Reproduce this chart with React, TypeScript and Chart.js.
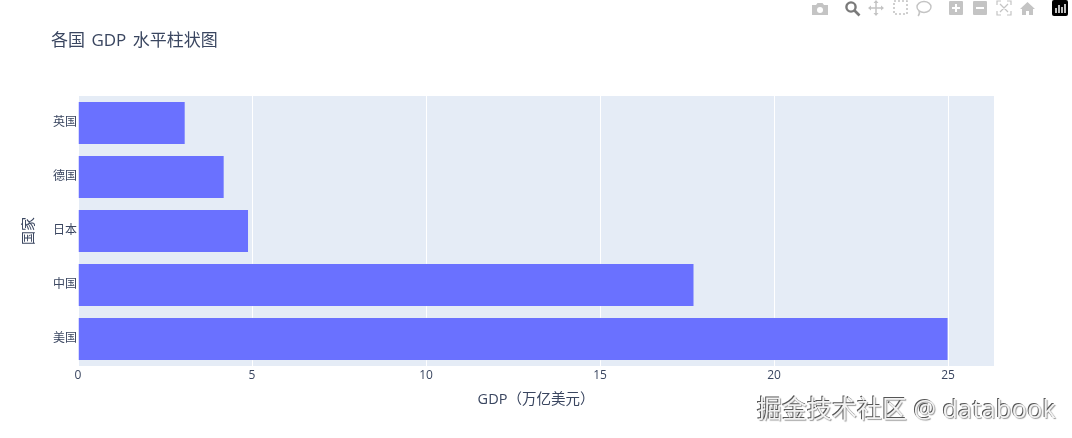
import { useEffect, useRef } from 'react';
import { Chart, ChartConfiguration, registerables } from 'chart.js';

Chart.register(...registerables);

const countries = ['英国', '德国', '日本', '中国', '美国'];
const gdpValues = [3.08, 4.2, 4.9, 17.7, 25];
const xTicks = [0, 5, 10, 15, 20, 25];
const xMax = 26.32;

const FONT = '"Open Sans", "Noto Sans CJK SC", sans-serif';
const INK = '#3a4660';
const ICON = '#c4c4c4';

// Plotly style modebar, just for looks
const ModeBar = () => (
  <svg width={272} height={20} viewBox="0 0 272 20" style={{ position: 'absolute', left: 800, top: 0 }}>
    {/* camera */}
    <path d="M12 5h4l1.500-2h5L24 5h4v10H12z" fill={ICON} />
    <circle cx={20} cy={10} r={3} fill="#fff" />
    {/* zoom */}
    <circle cx={51} cy={7} r={4.600} fill="none" stroke="#7a7a7a" strokeWidth={2.4} />
    <path d="M54.500 10.500l5 5" stroke="#7a7a7a" strokeWidth={2.6} />
    {/* pan */}
    <path d="M76 1v14M69 8h14" stroke={ICON} strokeWidth={1.5} />
    <path d="M76 0l-2.500 3h5zM76 16l-2.500-3h5zM68 8l3-2.500v5zM84 8l-3-2.500v5z" fill={ICON} />
    {/* box select */}
    <rect x={94} y={1} width={13} height={13} fill="none" stroke={ICON} strokeWidth={1.6} strokeDasharray="2 2" />
    {/* lasso */}
    <ellipse cx={124} cy={7} rx={7} ry={5.500} fill="none" stroke={ICON} strokeWidth={1.4} />
    <path d="M119 11c1 2 1 3-1 5" fill="none" stroke={ICON} strokeWidth={1.4} />
    {/* zoom in / out */}
    <rect x={149} y={1} width={14} height={14} rx={1} fill={ICON} />
    <path d="M156 4v8M152 8h8" stroke="#fff" strokeWidth={2} />
    <rect x={173} y={1} width={14} height={14} rx={1} fill={ICON} />
    <path d="M176 8h8" stroke="#fff" strokeWidth={2} />
    {/* autoscale */}
    <path d="M197 5V1h4M207 1h4v4M211 11v4h-4M201 15h-4v-4M200 4l8 8M208 4l-8 8" fill="none" stroke={ICON} strokeWidth={1.2} />
    {/* home */}
    <path d="M220 9l7.500-7 7.500 7h-2v6h-4v-4h-3v4h-4V9z" fill={ICON} />
    {/* plotly logo */}
    <rect x={252} y={0} width={16} height={16} rx={2} fill="#000" />
    <path d="M256 8v5M259 5v8M262 7v6M265 4v9" stroke="#fff" strokeWidth={1.5} />
  </svg>
);

const App = () => {
  const canvasRef = useRef<HTMLCanvasElement>(null);

  useEffect(() => {
    if (!canvasRef.current) return;

    const config: ChartConfiguration = {
      type: 'bar',
      data: {
        labels: countries,
        datasets: [
          {
            data: gdpValues,
            backgroundColor: '#6a71ff',
            borderColor: '#e5ecf6',
            borderWidth: 0.5,
            barPercentage: 0.8,
            categoryPercentage: 1,
          },
        ],
      },
      options: {
        indexAxis: 'y',
        responsive: false,
        animation: false,
        layout: { padding: { top: 96, right: 78, bottom: 28, left: 21 } },
        plugins: {
          legend: { display: false },
          title: { display: false },
          tooltip: { enabled: false },
        },
        scales: {
          x: {
            type: 'linear',
            min: 0,
            max: xMax,
            afterBuildTicks: (axis) => {
              axis.ticks = xTicks.map((value) => ({ value }));
            },
            afterFit: (axis) => {
              axis.height = 44;
            },
            grid: { color: '#ffffff', lineWidth: 1, drawTicks: false },
            border: { display: false },
            ticks: { color: INK, padding: 2, maxRotation: 0, font: { family: FONT, size: 12 } },
            title: {
              display: true,
              text: 'GDP（万亿美元）',
              color: INK,
              padding: { top: 8, bottom: 1 },
              font: { family: FONT, size: 14.5 },
            },
          },
          y: {
            type: 'category',
            afterFit: (axis) => {
              axis.width = 57;
            },
            grid: { display: false, drawTicks: false },
            border: { display: false },
            ticks: { color: INK, padding: 1, font: { family: FONT, size: 12 } },
            title: {
              display: true,
              text: '国家',
              color: INK,
              padding: { top: 0, bottom: 0 },
              font: { family: FONT, size: 14 },
            },
          },
        },
      },
      plugins: [
        {
          id: 'plotBackground',
          beforeDraw: (chart) => {
            const { ctx, chartArea } = chart;
            ctx.save();
            ctx.fillStyle = '#e5ecf6';
            ctx.fillRect(chartArea.left, chartArea.top, chartArea.width, chartArea.height);
            ctx.restore();
          },
        },
      ],
    };

    const chart = new Chart(canvasRef.current, config);

    return () => {
      chart.destroy();
    };
  }, []);

  return (
    <div style={{ position: 'absolute', left: 0, top: 0, width: 1072, height: 438, background: '#fff', overflow: 'hidden' }}>
      <canvas ref={canvasRef} width={1072} height={438} style={{ display: 'block' }}></canvas>
      <div style={{ position: 'absolute', left: 51, top: 28, fontFamily: FONT, fontSize: 17, lineHeight: '24px', color: INK, wordSpacing: 2 }}>
        各国 GDP 水平柱状图
      </div>
      <ModeBar />
      <div
        style={{
          position: 'absolute',
          left: 757,
          top: 391,
          fontFamily: FONT,
          fontSize: 25,
          lineHeight: '34px',
          color: '#f2f2f2',
          whiteSpace: 'nowrap',
          textShadow: '-1px -1px 0 #555, 1px 1px 1px #999',
        }}
      >
        掘金技术社区 @ <span style={{ letterSpacing: 0.4 }}>databook</span>
      </div>
    </div>
  );
};

export default App;
